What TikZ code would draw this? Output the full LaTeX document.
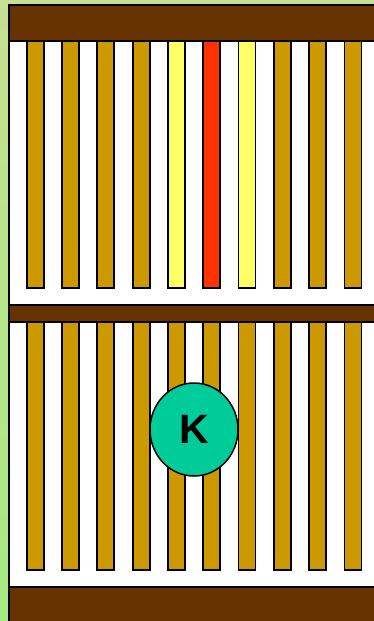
\documentclass[tikz,border=0pt]{standalone}
\usepackage{fontspec}
\setmainfont{Liberation Sans}
\definecolor{bgtop}{HTML}{C6DF92}
\definecolor{bgbot}{HTML}{A6EA82}
\definecolor{wood}{HTML}{663300}
\definecolor{gold}{HTML}{CC9900}
\definecolor{lite}{HTML}{FFFF66}
\definecolor{hot}{HTML}{FF3300}
\definecolor{teal}{HTML}{00CC99}
\tikzset{
  rail/.style={fill=wood, draw=black, line width=1.5pt},
  slat/.style={fill=gold, draw=black, line width=1.8pt},
  kbadge/.style={ellipse, fill=teal, draw=black, line width=1.5pt, minimum width=88pt, minimum height=93pt, inner sep=0pt, font=\bfseries\fontsize{41}{41}\selectfont}
}
\usetikzlibrary{shapes.geometric}
\begin{document}
\begin{tikzpicture}[x=1pt,y=-1pt]
\useasboundingbox (0,0) rectangle (374,621);
\shade[top color=bgtop, bottom color=bgbot] (0,0) rectangle (374,621);
\fill[white] (9,5) rectangle (376,623);
\draw[black, line width=1.5pt] (9,5) -- (9,623);
% rails
\draw[rail] (9,5) rectangle (376,41);
\draw[rail] (9,305) rectangle (376,322);
\draw[rail] (9,587) rectangle (376,623);
% slats
\foreach \i in {0,...,9} {
  \pgfmathsetmacro{\xl}{26.7+35.3*\i}
  \pgfmathsetmacro{\xr}{\xl+17}
  \ifnum\i=4 \def\c{lite}\else\ifnum\i=6 \def\c{lite}\else\ifnum\i=5 \def\c{hot}\else\def\c{gold}\fi\fi\fi
  \draw[slat, fill=\c] (\xl,41) rectangle (\xr,288);
  \draw[slat] (\xl,322) rectangle (\xr,570);
}
\node[kbadge] (k) at (194,429.5) {K};
\end{tikzpicture}
\end{document}
